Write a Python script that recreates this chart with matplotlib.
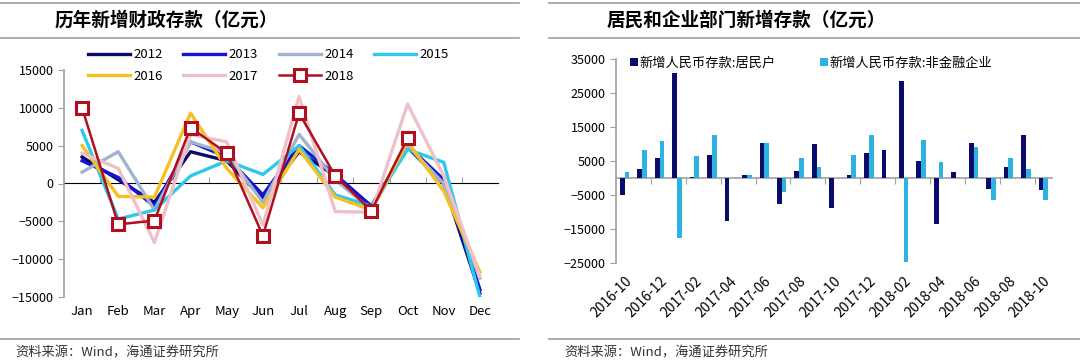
import matplotlib
matplotlib.use("Agg")
import matplotlib.pyplot as plt
import numpy as np

plt.rcParams['font.family'] = ['Noto Sans CJK SC', 'DejaVu Sans']

# left chart: new fiscal deposits per month, by year
months = ["Jan", "Feb", "Mar", "Apr", "May", "Jun", "Jul", "Aug", "Sep", "Oct", "Nov", "Dec"]
years = ["2012", "2013", "2014", "2015", "2016", "2017", "2018"]
y2012 = [3500, 500, -2500, 4200, 3000, -2000, 4200, 1000, -3000, 4800, 0, -14500]
y2013 = [3000, 800, -3000, 5500, 3500, -1500, 5000, 1200, -3000, 5000, 500, -14000]
y2014 = [1500, 4200, -3500, 5500, 4000, -2500, 6500, 500, -3500, 5000, 0, -12500]
y2015 = [7000, -4700, -3500, 1000, 3000, 1200, 5000, -1500, -3000, 4500, 2800, -15000]
y2016 = [5000, -1700, -1800, 9300, 2000, -3200, 4500, -1800, -3500, 5500, -1000, -11700]
y2017 = [4000, 2000, -7800, 6500, 5500, -5500, 11500, -3700, -3800, 10500, 1000, -12300]
y2018 = [10000, -5400, -4900, 7400, 4000, -6900, 9300, 1000, -3600, 6000]
year_colors = ["#0b0b6b", "#1414d2", "#a0b4d0", "#2ec8ea", "#f5c024", "#efc0c8", "#b0101e"]

# right chart: new RMB deposits, households vs non-financial corporates
periods = ["2016-10", "2016-11", "2016-12", "2017-01", "2017-02", "2017-03", "2017-04",
           "2017-05", "2017-06", "2017-07", "2017-08", "2017-09", "2017-10", "2017-11",
           "2017-12", "2018-01", "2018-02", "2018-03", "2018-04", "2018-05", "2018-06",
           "2018-07", "2018-08", "2018-09", "2018-10"]
household = [-4900, 2750, 5900, 31000, 500, 6900, -12500, 1000, 10500, -7600, 2250, 10100,
             -8600, 1000, 7300, 8200, 28500, 5100, -13500, 2000, 10500, -3100, 3300, 12700,
             -3500]
corporate = [1960, 8200, 11000, -17600, 6500, 12700, 0, 1000, 10500, -4100, 5900, 3200,
             0, 6900, 12700, 0, -24500, 11400, 4900, 0, 9200, -6300, 5900, 2750, -6300]

W, H = 1080, 364
fig = plt.figure(figsize=(W / 100, H / 100), dpi=100)
gray = "#a0a0a0"


def px(x0, y0, x1, y1):
    return [x0 / W, 1 - y1 / H, (x1 - x0) / W, (y1 - y0) / H]


def frame_lines(x0, x1, title, tx):
    for y in (2.5, 38):
        fig.add_artist(plt.Line2D([x0 / W, x1 / W], [1 - y / H] * 2, color=gray, lw=1.2))
    fig.add_artist(plt.Line2D([x0 / W, x1 / W], [1 - 338.5 / H] * 2, color=gray, lw=1.2))
    fig.text(tx / W, 1 - 20 / H, title, fontsize=13.4, fontweight='bold', va='center')
    fig.text((x0 + 15) / W, 1 - 353 / H, "资料来源：Wind，海通证券研究所",
             fontsize=9.5, va='center', color="#333333")


frame_lines(0, 519, "历年新增财政存款（亿元）", 55)
frame_lines(549, 1080, "居民和企业部门新增存款（亿元）", 607)

# ---- left chart
ax = fig.add_axes(px(64, 70, 498, 297))
x = np.arange(len(months))
series = [y2012, y2013, y2014, y2015, y2016, y2017]
handles = []
for name, vals, c in zip(years[:-1], series, year_colors[:-1]):
    h, = ax.plot(x[:len(vals)], vals, color=c, lw=2.4, label=name)
    handles.append(h)
h, = ax.plot(x[:len(y2018)], y2018, color=year_colors[-1], lw=1.8, marker='s', ms=9,
             mfc='white', mec=year_colors[-1], mew=2.2, label=years[-1])
handles.append(h)
ax.set_xlim(-0.5, 11.5)
ax.set_ylim(-15000, 15000)
ax.set_yticks(np.arange(-15000, 15001, 5000))
ax.set_xticks(x)
ax.set_xticklabels(months)
ax.tick_params(axis='x', length=0, labelsize=9.5, pad=6)
ax.tick_params(axis='y', length=4, color=gray, labelsize=9, direction='out')
for s in ('top', 'right', 'bottom'):
    ax.spines[s].set_visible(False)
ax.spines['left'].set_color(gray)
ax.spines['left'].set_linewidth(1.2)
zx = ax.secondary_xaxis(0.5)
zx.set_xticks(np.arange(0.5, 11.5, 1.0))
zx.set_xticklabels([])
zx.tick_params(length=4, color=gray, direction='out')
zx.spines['bottom'].set_color(gray)
zx.spines['bottom'].set_linewidth(1.2)
# legend fills column by column, so reorder to get 2012-2015 on the first row
order = [0, 4, 1, 5, 2, 6, 3]
ax.legend(handles=[handles[i] for i in order], ncol=4, loc='upper left',
          bbox_to_anchor=(0.055, 1.095), frameon=False, fontsize=9.5, handlelength=3.2,
          handletextpad=0.25, columnspacing=1.55, labelspacing=0.62, borderaxespad=0,
          borderpad=0)

# ---- right chart
ax2 = fig.add_axes(px(616, 59.3, 1052, 263.3))
xr = np.arange(len(periods))
bw = 0.27
ax2.bar(xr - bw / 2, household, bw, color="#0b0b6b", label="新增人民币存款:居民户")
ax2.bar(xr + bw / 2, corporate, bw, color="#2db2e2", label="新增人民币存款:非金融企业")
ax2.set_xlim(-0.5, len(periods) - 0.5)
ax2.set_ylim(-25000, 35000)
ax2.set_yticks(np.arange(-25000, 35001, 10000))
ax2.set_xticks(xr[::2])
ax2.set_xticklabels(periods[::2], rotation=45, ha='right', rotation_mode='anchor')
ax2.tick_params(axis='x', length=0, labelsize=10, pad=8)
ax2.tick_params(axis='y', length=4, color=gray, labelsize=9, direction='out')
for s in ('top', 'right', 'bottom'):
    ax2.spines[s].set_visible(False)
ax2.spines['left'].set_color(gray)
ax2.spines['left'].set_linewidth(1.2)
zx2 = ax2.secondary_xaxis(25000 / 60000)
zx2.set_xticks(np.arange(1.5, len(periods) - 0.5, 2.0))
zx2.set_xticklabels([])
zx2.tick_params(length=4, color=gray, direction='out')
zx2.spines['bottom'].set_color(gray)
zx2.spines['bottom'].set_linewidth(1.2)
ax2.legend(ncol=2, loc='upper left', bbox_to_anchor=(0.02, 1.04), frameon=False,
           fontsize=9.5, handlelength=0.6, handleheight=0.6, handletextpad=0.1,
           columnspacing=3.4, borderaxespad=0)

fig.savefig("out.png", dpi=100)
